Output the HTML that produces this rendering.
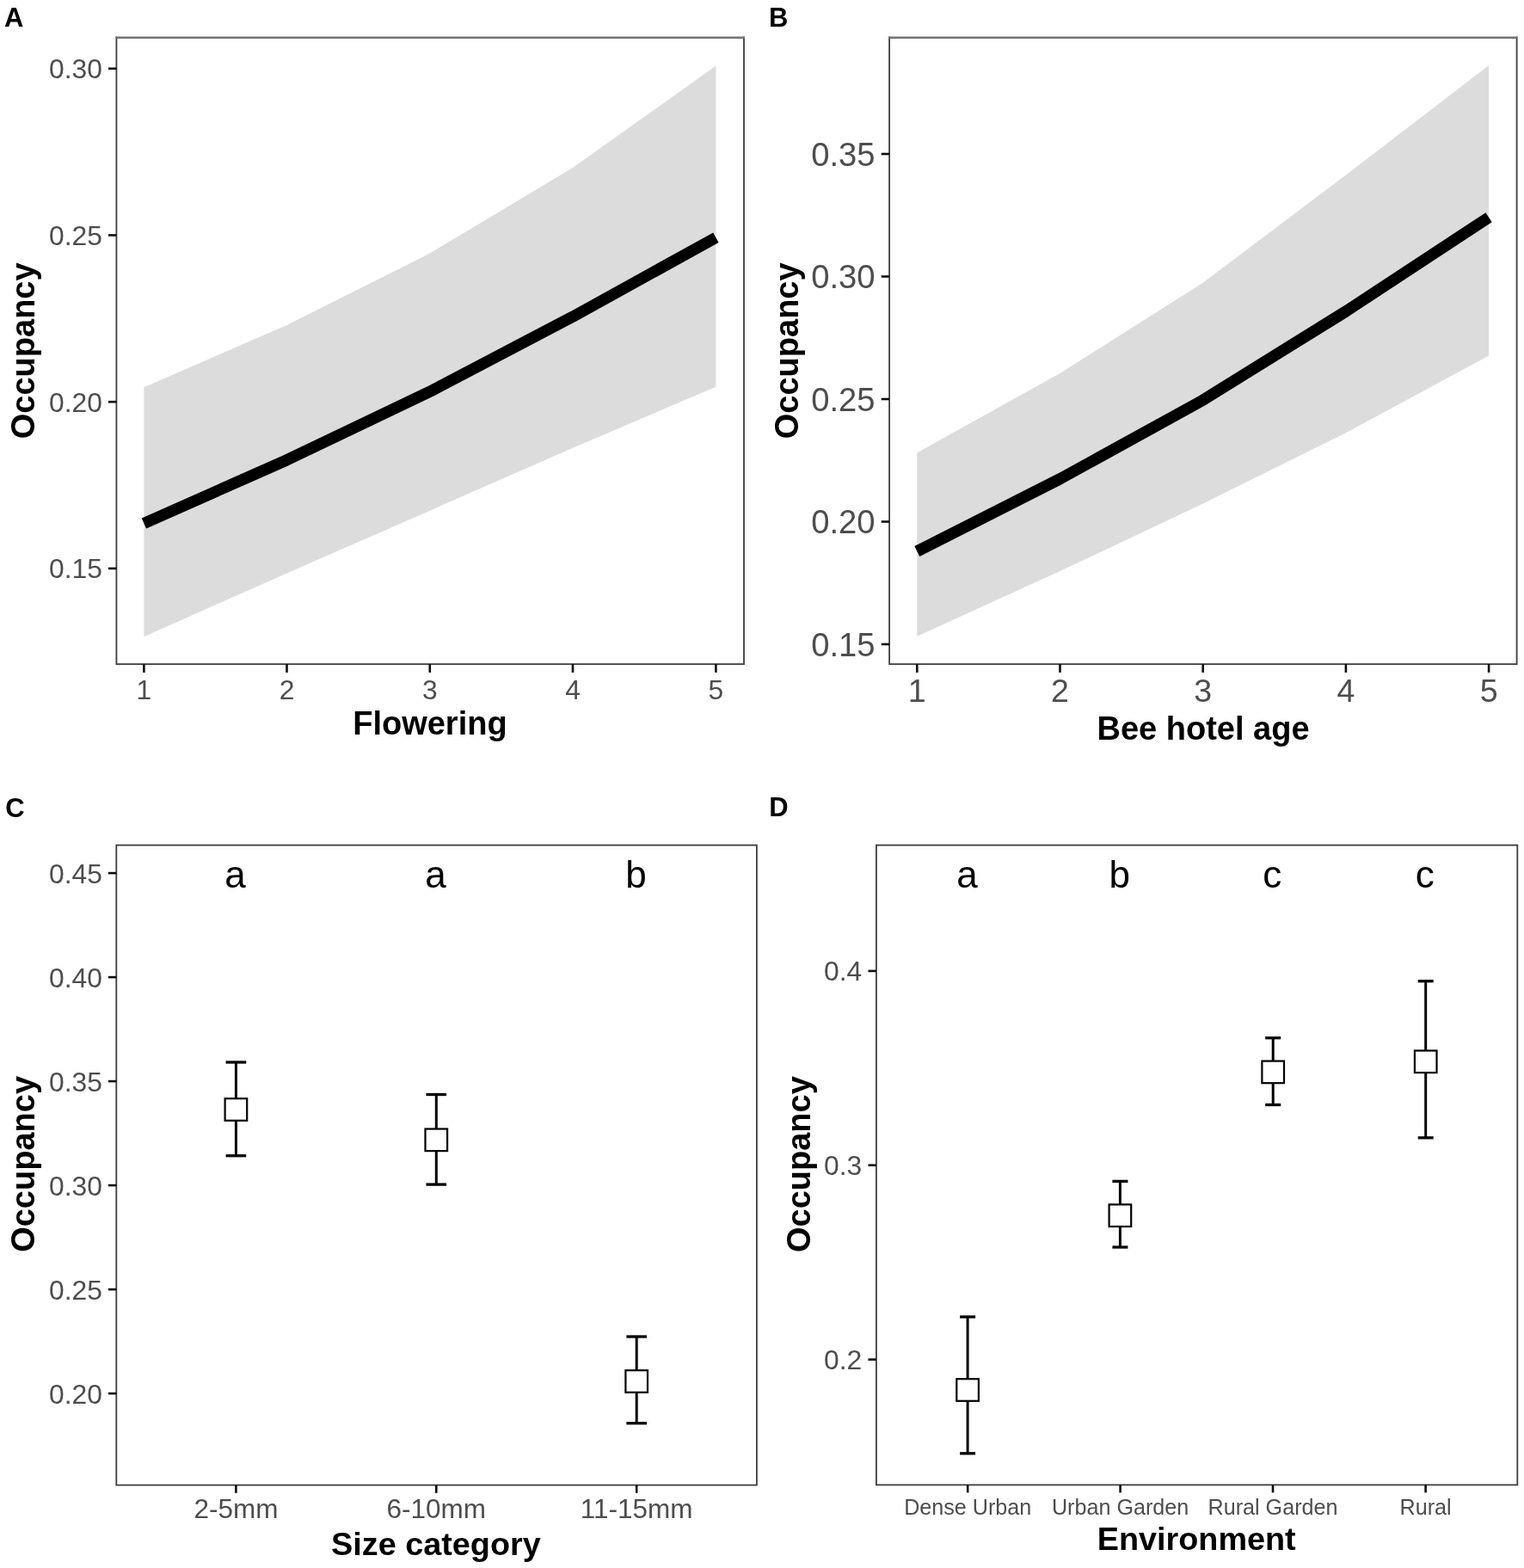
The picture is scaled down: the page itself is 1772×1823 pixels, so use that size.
<!DOCTYPE html>
<html lang="en">
<head>
<meta charset="utf-8">
<title>Occupancy figure</title>
<style>
html, body { margin: 0; padding: 0; background: #ffffff; }
body { width: 1772px; height: 1823px; overflow: hidden; }
svg { display: block; font-family: "Liberation Sans", sans-serif; }
</style>
</head>
<body>
<svg width="1772" height="1823" viewBox="0 0 1772 1823">
<rect x="0" y="0" width="1772" height="1823" fill="#ffffff"/>
<g id="panelA">
<text x="5" y="30.6" font-size="31" text-anchor="start" font-weight="bold" fill="#000">A</text>
<polygon points="167.4,450.3 333.5,378 499.8,294.5 666.0,195.1 832.4,76.5 832.4,449.7 666.0,520.8 499.8,593.7 333.5,666.4 167.4,740.2" fill="#dcdcdc"/>
<polyline points="167.4,608.5 333.5,534.8 499.8,455.3 666.0,368.2 832.4,276.2" fill="none" stroke="#000" stroke-width="13.3" stroke-linejoin="round" stroke-linecap="butt"/>
<polyline points="135.4,43.5 135.4,772.1 865.0,772.1 865.0,43.5" fill="none" stroke="#3d3d3d" stroke-width="1.8" stroke-linecap="square"/>
<line x1="134.5" y1="43.7" x2="865.9" y2="43.7" stroke="#747474" stroke-width="2.4"/>
<line x1="126.0" y1="79.75" x2="135.4" y2="79.75" stroke="#0d0d0d" stroke-width="2.6"/>
<text x="118.9" y="91.05" font-size="31.8" text-anchor="end" font-weight="normal" fill="#4d4d4d">0.30</text>
<line x1="126.0" y1="273.45" x2="135.4" y2="273.45" stroke="#0d0d0d" stroke-width="2.6"/>
<text x="118.9" y="284.75" font-size="31.8" text-anchor="end" font-weight="normal" fill="#4d4d4d">0.25</text>
<line x1="126.0" y1="467.2" x2="135.4" y2="467.2" stroke="#0d0d0d" stroke-width="2.6"/>
<text x="118.9" y="478.5" font-size="31.8" text-anchor="end" font-weight="normal" fill="#4d4d4d">0.20</text>
<line x1="126.0" y1="660.9" x2="135.4" y2="660.9" stroke="#0d0d0d" stroke-width="2.6"/>
<text x="118.9" y="672.2" font-size="31.8" text-anchor="end" font-weight="normal" fill="#4d4d4d">0.15</text>
<line x1="167.4" y1="772.1" x2="167.4" y2="781.9" stroke="#0d0d0d" stroke-width="2.6"/>
<text x="167.4" y="812.6" font-size="31.8" text-anchor="middle" font-weight="normal" fill="#4d4d4d">1</text>
<line x1="333.5" y1="772.1" x2="333.5" y2="781.9" stroke="#0d0d0d" stroke-width="2.6"/>
<text x="333.5" y="812.6" font-size="31.8" text-anchor="middle" font-weight="normal" fill="#4d4d4d">2</text>
<line x1="499.8" y1="772.1" x2="499.8" y2="781.9" stroke="#0d0d0d" stroke-width="2.6"/>
<text x="499.8" y="812.6" font-size="31.8" text-anchor="middle" font-weight="normal" fill="#4d4d4d">3</text>
<line x1="666.0" y1="772.1" x2="666.0" y2="781.9" stroke="#0d0d0d" stroke-width="2.6"/>
<text x="666.0" y="812.6" font-size="31.8" text-anchor="middle" font-weight="normal" fill="#4d4d4d">4</text>
<line x1="832.4" y1="772.1" x2="832.4" y2="781.9" stroke="#0d0d0d" stroke-width="2.6"/>
<text x="832.4" y="812.6" font-size="31.8" text-anchor="middle" font-weight="normal" fill="#4d4d4d">5</text>
<text x="499.9" y="854.2" font-size="38" text-anchor="middle" font-weight="bold" fill="#000">Flowering</text>
<text x="40.4" y="407.8" font-size="38" text-anchor="middle" font-weight="bold" fill="#000" transform="rotate(-90 40.4 407.8)">Occupancy</text>
</g>
<g id="panelB">
<text x="894.1" y="30.7" font-size="31" text-anchor="start" font-weight="bold" fill="#000">B</text>
<polygon points="1066.3,526.4 1232.5,433.9 1398.7,328.8 1564.9,203.5 1731.1,76 1731.1,413.5 1564.9,503.2 1398.7,585.6 1232.5,664.1 1066.3,739.7" fill="#dcdcdc"/>
<polyline points="1066.3,641 1232.5,556.8 1398.7,465.2 1564.9,362 1731.1,252.7" fill="none" stroke="#000" stroke-width="13.3" stroke-linejoin="round" stroke-linecap="butt"/>
<polyline points="1034.1,43.5 1034.1,772.1 1763.6,772.1 1763.6,43.5" fill="none" stroke="#3d3d3d" stroke-width="1.8" stroke-linecap="square"/>
<line x1="1033.1999999999998" y1="43.7" x2="1764.5" y2="43.7" stroke="#747474" stroke-width="2.4"/>
<line x1="1024.6999999999998" y1="179" x2="1034.1" y2="179" stroke="#0d0d0d" stroke-width="2.6"/>
<text x="1017.5" y="192.7" font-size="38.2" text-anchor="end" font-weight="normal" fill="#4d4d4d">0.35</text>
<line x1="1024.6999999999998" y1="321.5" x2="1034.1" y2="321.5" stroke="#0d0d0d" stroke-width="2.6"/>
<text x="1017.5" y="335.2" font-size="38.2" text-anchor="end" font-weight="normal" fill="#4d4d4d">0.30</text>
<line x1="1024.6999999999998" y1="464" x2="1034.1" y2="464" stroke="#0d0d0d" stroke-width="2.6"/>
<text x="1017.5" y="477.7" font-size="38.2" text-anchor="end" font-weight="normal" fill="#4d4d4d">0.25</text>
<line x1="1024.6999999999998" y1="606.5" x2="1034.1" y2="606.5" stroke="#0d0d0d" stroke-width="2.6"/>
<text x="1017.5" y="620.2" font-size="38.2" text-anchor="end" font-weight="normal" fill="#4d4d4d">0.20</text>
<line x1="1024.6999999999998" y1="749" x2="1034.1" y2="749" stroke="#0d0d0d" stroke-width="2.6"/>
<text x="1017.5" y="762.7" font-size="38.2" text-anchor="end" font-weight="normal" fill="#4d4d4d">0.15</text>
<line x1="1066.3" y1="772.1" x2="1066.3" y2="781.9" stroke="#0d0d0d" stroke-width="2.6"/>
<text x="1066.3" y="816.4" font-size="37.6" text-anchor="middle" font-weight="normal" fill="#4d4d4d">1</text>
<line x1="1232.5" y1="772.1" x2="1232.5" y2="781.9" stroke="#0d0d0d" stroke-width="2.6"/>
<text x="1232.5" y="816.4" font-size="37.6" text-anchor="middle" font-weight="normal" fill="#4d4d4d">2</text>
<line x1="1398.7" y1="772.1" x2="1398.7" y2="781.9" stroke="#0d0d0d" stroke-width="2.6"/>
<text x="1398.7" y="816.4" font-size="37.6" text-anchor="middle" font-weight="normal" fill="#4d4d4d">3</text>
<line x1="1564.9" y1="772.1" x2="1564.9" y2="781.9" stroke="#0d0d0d" stroke-width="2.6"/>
<text x="1564.9" y="816.4" font-size="37.6" text-anchor="middle" font-weight="normal" fill="#4d4d4d">4</text>
<line x1="1731.1" y1="772.1" x2="1731.1" y2="781.9" stroke="#0d0d0d" stroke-width="2.6"/>
<text x="1731.1" y="816.4" font-size="37.6" text-anchor="middle" font-weight="normal" fill="#4d4d4d">5</text>
<text x="1399.0" y="860.3" font-size="38" text-anchor="middle" font-weight="bold" fill="#000">Bee hotel age</text>
<text x="927.8" y="407.8" font-size="38" text-anchor="middle" font-weight="bold" fill="#000" transform="rotate(-90 927.8 407.8)">Occupancy</text>
</g>
<g id="panelC">
<text x="6.2" y="949.6" font-size="31" text-anchor="start" font-weight="bold" fill="#000">C</text>
<rect x="135.3" y="982.6" width="744.5999999999999" height="743.9999999999999" fill="none" stroke="#3d3d3d" stroke-width="1.8"/>
<line x1="125.9" y1="1015.1" x2="135.3" y2="1015.1" stroke="#0d0d0d" stroke-width="2.6"/>
<text x="118.9" y="1026.5" font-size="31.8" text-anchor="end" font-weight="normal" fill="#4d4d4d">0.45</text>
<line x1="125.9" y1="1136.1" x2="135.3" y2="1136.1" stroke="#0d0d0d" stroke-width="2.6"/>
<text x="118.9" y="1147.5" font-size="31.8" text-anchor="end" font-weight="normal" fill="#4d4d4d">0.40</text>
<line x1="125.9" y1="1257.1" x2="135.3" y2="1257.1" stroke="#0d0d0d" stroke-width="2.6"/>
<text x="118.9" y="1268.5" font-size="31.8" text-anchor="end" font-weight="normal" fill="#4d4d4d">0.35</text>
<line x1="125.9" y1="1378.1" x2="135.3" y2="1378.1" stroke="#0d0d0d" stroke-width="2.6"/>
<text x="118.9" y="1389.5" font-size="31.8" text-anchor="end" font-weight="normal" fill="#4d4d4d">0.30</text>
<line x1="125.9" y1="1499.1" x2="135.3" y2="1499.1" stroke="#0d0d0d" stroke-width="2.6"/>
<text x="118.9" y="1510.5" font-size="31.8" text-anchor="end" font-weight="normal" fill="#4d4d4d">0.25</text>
<line x1="125.9" y1="1620.1" x2="135.3" y2="1620.1" stroke="#0d0d0d" stroke-width="2.6"/>
<text x="118.9" y="1631.5" font-size="31.8" text-anchor="end" font-weight="normal" fill="#4d4d4d">0.20</text>
<line x1="274.4" y1="1726.6" x2="274.4" y2="1735.8" stroke="#0d0d0d" stroke-width="2.6"/>
<text x="274.4" y="1765.1" font-size="31.5" text-anchor="middle" font-weight="normal" fill="#4d4d4d">2-5mm</text>
<line x1="507.3" y1="1726.6" x2="507.3" y2="1735.8" stroke="#0d0d0d" stroke-width="2.6"/>
<text x="507.3" y="1765.1" font-size="31.5" text-anchor="middle" font-weight="normal" fill="#4d4d4d">6-10mm</text>
<line x1="740.2" y1="1726.6" x2="740.2" y2="1735.8" stroke="#0d0d0d" stroke-width="2.6"/>
<text x="740.2" y="1765.1" font-size="31.5" text-anchor="middle" font-weight="normal" fill="#4d4d4d">11-15mm</text>
<text x="273.59999999999997" y="1032.0" font-size="44" text-anchor="middle" font-weight="normal" fill="#000">a</text>
<text x="506.5" y="1032.0" font-size="44" text-anchor="middle" font-weight="normal" fill="#000">a</text>
<text x="739.4000000000001" y="1032.0" font-size="44" text-anchor="middle" font-weight="normal" fill="#000">b</text>
<line x1="274.4" y1="1235" x2="274.4" y2="1343.7" stroke="#000" stroke-width="3"/>
<line x1="262.59999999999997" y1="1235" x2="286.2" y2="1235" stroke="#000" stroke-width="3.3"/>
<line x1="262.59999999999997" y1="1343.7" x2="286.2" y2="1343.7" stroke="#000" stroke-width="3.3"/>
<rect x="261.59999999999997" y="1277.2" width="25.6" height="25.6" fill="#fff" stroke="#000" stroke-width="2.2"/>
<line x1="507.3" y1="1272.5" x2="507.3" y2="1377.1" stroke="#000" stroke-width="3"/>
<line x1="495.5" y1="1272.5" x2="519.1" y2="1272.5" stroke="#000" stroke-width="3.3"/>
<line x1="495.5" y1="1377.1" x2="519.1" y2="1377.1" stroke="#000" stroke-width="3.3"/>
<rect x="494.5" y="1312.5" width="25.6" height="25.6" fill="#fff" stroke="#000" stroke-width="2.2"/>
<line x1="740.2" y1="1554" x2="740.2" y2="1654.7" stroke="#000" stroke-width="3"/>
<line x1="728.4000000000001" y1="1554" x2="752.0" y2="1554" stroke="#000" stroke-width="3.3"/>
<line x1="728.4000000000001" y1="1654.7" x2="752.0" y2="1654.7" stroke="#000" stroke-width="3.3"/>
<rect x="727.4000000000001" y="1593.2" width="25.6" height="25.6" fill="#fff" stroke="#000" stroke-width="2.2"/>
<text x="506.9" y="1807.5" font-size="37.8" text-anchor="middle" font-weight="bold" fill="#000">Size category</text>
<text x="40.4" y="1353.4" font-size="38" text-anchor="middle" font-weight="bold" fill="#000" transform="rotate(-90 40.4 1353.4)">Occupancy</text>
</g>
<g id="panelD">
<text x="894.2" y="949.4" font-size="31" text-anchor="start" font-weight="bold" fill="#000">D</text>
<rect x="1018.9" y="982.6" width="745.4" height="743.8000000000001" fill="none" stroke="#3d3d3d" stroke-width="1.8"/>
<line x1="1009.5" y1="1128.9" x2="1018.9" y2="1128.9" stroke="#0d0d0d" stroke-width="2.6"/>
<text x="1002.2" y="1140.3" font-size="31.8" text-anchor="end" font-weight="normal" fill="#4d4d4d">0.4</text>
<line x1="1009.5" y1="1354.7" x2="1018.9" y2="1354.7" stroke="#0d0d0d" stroke-width="2.6"/>
<text x="1002.2" y="1366.1" font-size="31.8" text-anchor="end" font-weight="normal" fill="#4d4d4d">0.3</text>
<line x1="1009.5" y1="1580.6" x2="1018.9" y2="1580.6" stroke="#0d0d0d" stroke-width="2.6"/>
<text x="1002.2" y="1592.0" font-size="31.8" text-anchor="end" font-weight="normal" fill="#4d4d4d">0.2</text>
<line x1="1125.2" y1="1726.4" x2="1125.2" y2="1735.4" stroke="#0d0d0d" stroke-width="2.6"/>
<text x="1125.2" y="1760.6" font-size="25.15" text-anchor="middle" font-weight="normal" fill="#4d4d4d">Dense Urban</text>
<line x1="1302.6" y1="1726.4" x2="1302.6" y2="1735.4" stroke="#0d0d0d" stroke-width="2.6"/>
<text x="1302.6" y="1760.6" font-size="25.15" text-anchor="middle" font-weight="normal" fill="#4d4d4d">Urban Garden</text>
<line x1="1480.0" y1="1726.4" x2="1480.0" y2="1735.4" stroke="#0d0d0d" stroke-width="2.6"/>
<text x="1480.0" y="1760.6" font-size="25.15" text-anchor="middle" font-weight="normal" fill="#4d4d4d">Rural Garden</text>
<line x1="1657.6" y1="1726.4" x2="1657.6" y2="1735.4" stroke="#0d0d0d" stroke-width="2.6"/>
<text x="1657.6" y="1760.6" font-size="25.15" text-anchor="middle" font-weight="normal" fill="#4d4d4d">Rural</text>
<text x="1124.4" y="1032.0" font-size="44" text-anchor="middle" font-weight="normal" fill="#000">a</text>
<text x="1301.8" y="1032.0" font-size="44" text-anchor="middle" font-weight="normal" fill="#000">b</text>
<text x="1479.2" y="1032.0" font-size="44" text-anchor="middle" font-weight="normal" fill="#000">c</text>
<text x="1656.8" y="1032.0" font-size="44" text-anchor="middle" font-weight="normal" fill="#000">c</text>
<line x1="1125.1" y1="1531" x2="1125.1" y2="1689.8" stroke="#000" stroke-width="3"/>
<line x1="1116.1" y1="1531" x2="1134.1" y2="1531" stroke="#000" stroke-width="3.3"/>
<line x1="1116.1" y1="1689.8" x2="1134.1" y2="1689.8" stroke="#000" stroke-width="3.3"/>
<rect x="1112.3" y="1603.2" width="25.6" height="25.6" fill="#fff" stroke="#000" stroke-width="2.2"/>
<line x1="1302.4" y1="1373.4" x2="1302.4" y2="1450" stroke="#000" stroke-width="3"/>
<line x1="1293.4" y1="1373.4" x2="1311.4" y2="1373.4" stroke="#000" stroke-width="3.3"/>
<line x1="1293.4" y1="1450" x2="1311.4" y2="1450" stroke="#000" stroke-width="3.3"/>
<rect x="1289.6000000000001" y="1400.4" width="25.6" height="25.6" fill="#fff" stroke="#000" stroke-width="2.2"/>
<line x1="1480.2" y1="1206.7" x2="1480.2" y2="1284.5" stroke="#000" stroke-width="3"/>
<line x1="1471.2" y1="1206.7" x2="1489.2" y2="1206.7" stroke="#000" stroke-width="3.3"/>
<line x1="1471.2" y1="1284.5" x2="1489.2" y2="1284.5" stroke="#000" stroke-width="3.3"/>
<rect x="1467.4" y="1233.6000000000001" width="25.6" height="25.6" fill="#fff" stroke="#000" stroke-width="2.2"/>
<line x1="1657.7" y1="1140.7" x2="1657.7" y2="1322.8" stroke="#000" stroke-width="3"/>
<line x1="1648.7" y1="1140.7" x2="1666.7" y2="1140.7" stroke="#000" stroke-width="3.3"/>
<line x1="1648.7" y1="1322.8" x2="1666.7" y2="1322.8" stroke="#000" stroke-width="3.3"/>
<rect x="1644.9" y="1221.5" width="25.6" height="25.6" fill="#fff" stroke="#000" stroke-width="2.2"/>
<text x="1391.2" y="1802.2" font-size="37.8" text-anchor="middle" font-weight="bold" fill="#000">Environment</text>
<text x="941.8" y="1353.6" font-size="38" text-anchor="middle" font-weight="bold" fill="#000" transform="rotate(-90 941.8 1353.6)">Occupancy</text>
</g>
</svg>
</body>
</html>
